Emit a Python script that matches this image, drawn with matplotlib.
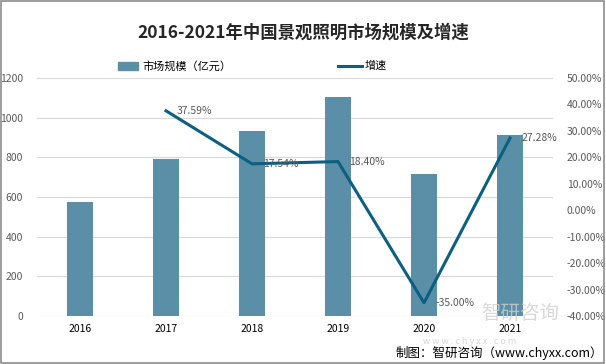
import matplotlib.pyplot as plt
from matplotlib.patches import Rectangle
from matplotlib.ticker import FuncFormatter

plt.rcParams['font.family'] = ['Noto Sans CJK SC', 'DejaVu Sans']

years = ['2016', '2017', '2018', '2019', '2020', '2021']
market = [575, 792, 933, 1104, 716, 912]
growth_years = ['2017', '2018', '2019', '2020', '2021']
growth = [37.59, 17.54, 18.40, -35.00, 27.28]

bar_color = '#5b8fa8'
line_color = '#0b5f80'
tick_color = '#595959'

fig = plt.figure(figsize=(6.06, 3.64), dpi=100)
ax = fig.add_axes([37 / 606, 1 - 316 / 364, (553 - 37) / 606, (316 - 78) / 364])

x = list(range(len(years)))
ax.bar(x, market, width=0.31, color=bar_color, zorder=2)
ax.set_xlim(-0.5, len(years) - 0.5)
ax.set_ylim(0, 1200)
ax.set_yticks(range(0, 1201, 200))
ax.set_xticks(x)
ax.set_xticklabels(years, fontsize=7.5, color='black')
ax.tick_params(axis='y', labelsize=7.5, labelcolor=tick_color, length=0, pad=10)
ax.tick_params(axis='x', length=0, pad=6)
ax.grid(axis='y', color='#d9d9d9', linewidth=0.8, zorder=0)
for s in ax.spines.values():
    s.set_visible(False)

ax2 = ax.twinx()
gx = [years.index(y) for y in growth_years]
ax2.plot(gx, growth, color=line_color, linewidth=2.2, zorder=3)
ax2.set_ylim(-40, 50)
ax2.set_yticks(range(-40, 51, 10))
ax2.yaxis.set_major_formatter(FuncFormatter(lambda v, p: f'{v:.2f}%'))
ax2.tick_params(axis='y', labelsize=7.5, labelcolor=tick_color, length=0, pad=10)
for s in ax2.spines.values():
    s.set_visible(False)
for xi, g in zip(gx, growth):
    ax2.annotate(f'{g:.2f}%', (xi, g), xytext=(8, 0), textcoords='offset points',
                 fontsize=7.5, color=tick_color, va='center', ha='left', zorder=4)

fig.text(0.5, 1 - 33 / 364, '2016-2021年中国景观照明市场规模及增速', ha='center', va='center',
         fontsize=12.5, fontweight='bold', color='#262626')

# legend
fig.patches.append(Rectangle((118 / 606, 1 - 70 / 364), 20 / 606, 8 / 364,
                             transform=fig.transFigure, color=bar_color))
fig.text(142 / 606, 1 - 66 / 364, '市场规模（亿元）', fontsize=8, va='center', color='black')
fig.lines.append(plt.Line2D([338 / 606, 362 / 606], [1 - 66 / 364, 1 - 66 / 364],
                            transform=fig.transFigure, color=line_color, linewidth=2.2))
fig.text(365 / 606, 1 - 66 / 364, '增速', fontsize=8, va='center', color='black')

# watermark and source
fig.text(520 / 606, 1 - 313 / 364, '智研咨询', fontsize=14, color='#cfcfcf', ha='center',
         va='center', alpha=0.8, zorder=0)
fig.text(470 / 606, 1 - 341 / 364, 'w w w . c h y x x . c o m', fontsize=6.5, color='#d5d5d5',
         ha='center', va='center', zorder=0)
fig.text(603 / 606, 1 - 353 / 364, '制图：智研咨询（www.chyxx.com）', fontsize=9,
         ha='right', va='center', color='black')

fig.patches.append(Rectangle((0.002, 0.003), 0.995, 0.994, transform=fig.transFigure,
                             fill=False, edgecolor='#8c8c8c', linewidth=1.2))

fig.savefig('out.png', dpi=100)
